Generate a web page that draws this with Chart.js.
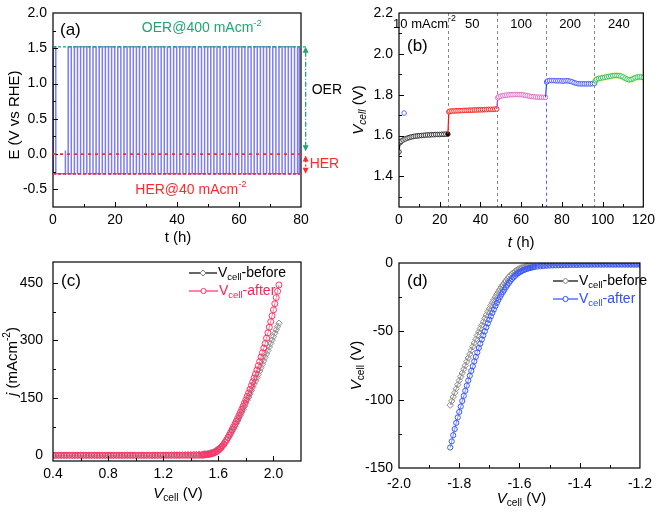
<!DOCTYPE html>
<html><head><meta charset="utf-8">
<script src="https://cdn.jsdelivr.net/npm/chart.js@4"></script>
<style>body{margin:0;background:#fff;width:661px;height:513px;overflow:hidden;position:relative}canvas.c{position:absolute;left:0;top:0}</style>
</head><body>
<canvas id="ca" class="c" width="661" height="513"></canvas>
<canvas id="cb" class="c" width="661" height="513"></canvas>
<canvas id="cc" class="c" width="661" height="513"></canvas>
<canvas id="cd" class="c" width="661" height="513"></canvas>
<script>
// ---------------- DATA ----------------
// (a) alternating OER/HER chronopotentiometry
const aXTicks = [0, 20, 40, 60, 80];
const aXMinor = [10, 30, 50, 70];
const aYTicks = [-0.5, 0, 0.5, 1.0, 1.5, 2.0];
const aYMinor = [-0.25, 0.25, 0.75, 1.25, 1.75];
const aOER = 1.52;
const aHER = -0.28;
const aSwitch = [0.1, 0.9, 4.9, 5.9, 6.9, 7.9, 8.9, 9.9, 10.9, 11.9, 12.9, 13.9, 14.9, 15.9, 16.9, 17.9, 18.9, 19.9, 20.9, 21.9, 22.9, 23.9, 24.9, 25.9, 26.9, 27.9, 28.9, 29.9, 30.9, 31.9, 32.9, 33.9, 34.9, 35.9, 36.9, 37.9, 38.9, 39.9, 40.9, 41.9, 42.9, 43.9, 44.9, 45.9, 46.9, 47.9, 48.9, 49.9, 50.9, 51.9, 52.9, 53.9, 54.9, 55.9, 56.9, 57.9, 58.9, 59.9, 60.9, 61.9, 62.9, 63.9, 64.9, 65.9, 66.9, 67.9, 68.9, 69.9, 70.9, 71.9, 72.9, 73.9, 74.9, 75.9, 76.9, 77.9, 78.9, 79.5];
const aGlitchT = [4.0];
const aGlitchV = [0.05];

// (b) stepwise current density
const bXTicks = [0, 20, 40, 60, 80, 100, 120];
const bXMinor = [10, 30, 50, 70, 90, 110];
const bYTicks = [1.4, 1.6, 1.8, 2.0, 2.2];
const bYMinor = [1.3, 1.5, 1.7, 1.9, 2.1];
const bSteps = [24, 48, 72, 96];
const bStepLabels = ['10 mAcm', '50', '100', '200', '240'];
const bT1 = [0, 0.5, 1, 2, 3, 4, 5, 6, 7, 8, 9, 10, 11, 12, 13, 14, 15, 16, 17, 18, 19, 20, 21, 22, 23, 24];
const bV1 = [1.52, 1.565, 1.572, 1.578, 1.583, 1.587, 1.590, 1.593, 1.595, 1.597, 1.598, 1.599, 1.600, 1.601, 1.602, 1.603, 1.603, 1.604, 1.604, 1.605, 1.605, 1.605, 1.606, 1.606, 1.607, 1.607];
const bT2 = [24, 24.5, 25, 26, 27, 28, 29, 30, 31, 32, 33, 34, 35, 36, 37, 38, 39, 40, 41, 42, 43, 44, 45, 46, 47, 48];
const bV2 = [1.607, 1.716, 1.719, 1.720, 1.720, 1.721, 1.721, 1.722, 1.722, 1.723, 1.723, 1.724, 1.724, 1.724, 1.725, 1.725, 1.726, 1.726, 1.726, 1.727, 1.727, 1.728, 1.728, 1.728, 1.729, 1.730];
const bT3 = [48, 48.5, 49, 50, 51, 52, 53, 54, 55, 56, 57, 58, 59, 60, 61, 62, 63, 64, 65, 66, 67, 68, 69, 70, 71, 72];
const bV3 = [1.730, 1.785, 1.790, 1.793, 1.795, 1.797, 1.798, 1.799, 1.800, 1.800, 1.801, 1.801, 1.800, 1.800, 1.799, 1.797, 1.795, 1.793, 1.791, 1.790, 1.789, 1.788, 1.788, 1.787, 1.787, 1.787];
const bT4 = [72, 72.5, 73, 74, 75, 76, 77, 78, 79, 80, 81, 82, 83, 84, 85, 86, 87, 88, 89, 90, 91, 92, 93, 94, 95, 96];
const bV4 = [1.787, 1.862, 1.867, 1.869, 1.869, 1.869, 1.868, 1.868, 1.868, 1.867, 1.867, 1.868, 1.868, 1.866, 1.863, 1.859, 1.856, 1.854, 1.853, 1.853, 1.853, 1.853, 1.853, 1.853, 1.854, 1.855];
const bT5 = [96, 96.5, 97, 98, 99, 100, 101, 102, 103, 104, 105, 106, 107, 108, 109, 110, 111, 112, 113, 114, 115, 116, 117, 118, 119, 120];
const bV5 = [1.855, 1.868, 1.875, 1.879, 1.881, 1.883, 1.885, 1.887, 1.889, 1.891, 1.893, 1.894, 1.894, 1.893, 1.891, 1.887, 1.881, 1.876, 1.873, 1.874, 1.878, 1.883, 1.886, 1.887, 1.886, 1.884];
const bStrayT = [2.5];
const bStrayV = [1.71];

// (c) polarization curves (OER-side)
const cXTicks = [0.4, 0.8, 1.2, 1.6, 2.0];
const cXMinor = [0.6, 1.0, 1.4, 1.8];
const cYTicks = [0, 150, 300, 450];
const cYMinor = [75, 225, 375];
const cV = [0.40,0.42,0.44,0.46,0.48,0.50,0.52,0.54,0.56,0.58,
  0.60,0.62,0.64,0.66,0.68,0.70,0.72,0.74,0.76,0.78,
  0.80,0.82,0.84,0.86,0.88,0.90,0.92,0.94,0.96,0.98,
  1.00,1.02,1.04,1.06,1.08,1.10,1.12,1.14,1.16,1.18,
  1.20,1.22,1.24,1.26,1.28,1.30,1.32,1.34,1.36,1.38,
  1.40,1.42,1.44,1.46,1.48,
  1.49,1.50,1.51,1.52,1.53,1.54,1.55,1.56,1.57,1.58,
  1.59,1.60,1.61,1.62,1.63,1.64,1.65,1.66,1.67,1.68,
  1.69,1.70,1.71,1.72,1.73,1.74,1.75,1.76,1.77,1.78,
  1.79,1.80,1.81,1.82,1.83,1.84,1.85,1.86,1.87,1.88,
  1.89,1.90,1.91,1.92,1.93,1.94,1.95,1.96,1.97,1.98,
  1.99,2.00,2.01,2.02,2.03,2.04];
const cBefore = [0,0,0,0,0,0,0,0,0,0,
  0,0,0,0,0,0,0,0,0,0,
  0,0,0,0,0,0,0,0,0,0,
  0,0,0,0,0,0,0,0,0,0,
  0.5,0.5,0.5,1,1,1,1,1.5,1.5,2,
  2,2.5,2.5,3,3,
  3.2,3.5,3.8,4,5,6,7,8,10,12,
  14.5,17,20,23,27,31,35.5,40,45.5,51,
  57,63,69.5,76,83,90,97.5,105,112.5,120,
  128,136,144,152,160.5,169,177.5,186,194.5,203,
  211.5,220,229,238,247,256,265,274,283,292,
  301,310,319,328,336.5,345];
const cAfter = [0,0,0,0,0,0,0,0,0,0,
  0,0,0,0,0,0,0,0,0,0,
  0,0,0,0,0,0,0,0,0,0,
  0,0,0,0,0,0,0,0,0,0,
  0,0,0,0,0,0,0,0,0,0,
  0,0,0,0,0,
  0.5,1,1.5,2,2.5,3,4,5,6.5,8,
  10.5,13,16.5,20,24.5,29,34.5,40,46.5,53,
  60,67,74,81,88.5,96,104,112,120,128,
  136.5,145,154,163,172.5,182,192,202,212.5,223,
  234,245,256.5,268,280,292,306,320,334.5,349,
  364.5,380,396,412,428.5,445];

// (d) polarization curves (HER-side)
const dXTicks = [-2.0, -1.8, -1.6, -1.4, -1.2];
const dXMinor = [-1.9, -1.7, -1.5, -1.3];
const dYTicks = [0, -50, -100, -150];
const dYMinor = [-25, -75, -125];
const dV = [-1.830,-1.825,-1.820,-1.815,-1.810,-1.805,-1.800,-1.795,-1.790,-1.785,
  -1.780,-1.775,-1.770,-1.765,-1.760,-1.755,-1.750,-1.745,-1.740,-1.735,
  -1.730,-1.725,-1.720,-1.715,-1.710,-1.705,-1.700,-1.695,-1.690,-1.685,
  -1.680,-1.675,-1.670,-1.665,-1.660,-1.655,-1.650,-1.645,-1.640,-1.635,
  -1.630,-1.625,-1.620,-1.615,-1.610,-1.605,-1.600,-1.595,-1.590,-1.585,
  -1.580,-1.575,-1.570,-1.565,-1.560,-1.555,-1.550,
  -1.54,-1.53,-1.52,-1.51,-1.50,-1.49,-1.48,-1.47,-1.46,-1.45,
  -1.44,-1.43,-1.42,-1.41,-1.40,-1.39,-1.38,-1.37,-1.36,-1.35,
  -1.34,-1.33,-1.32,-1.31,-1.30,-1.29,-1.28,-1.27,-1.26,-1.25,
  -1.24,-1.23,-1.22,-1.21,-1.20];
const dBefore = [-104,-101,-98,-95,-92,-89,-86,-83.2,-80.5,-77.7,
  -75,-72.2,-69.5,-66.7,-64,-61.2,-58.5,-55.7,-53,-50.5,
  -48,-45.5,-43,-40.5,-38,-35.7,-33.5,-31.2,-29,-27,
  -25,-23,-21,-19.2,-17.5,-16,-14.5,-13,-11.5,-10.2,
  -9,-8,-7,-6.1,-5.3,-4.6,-4,-3.6,-3.2,-2.9,
  -2.6,-2.3,-2.1,-1.9,-1.8,-1.7,-1.6,
  -1.4,-1.3,-1.2,-1.1,-1.0,-1.0,-0.9,-0.9,-0.9,-0.8,
  -0.8,-0.8,-0.8,-0.8,-0.8,-0.7,-0.7,-0.7,-0.7,-0.7,
  -0.7,-0.7,-0.7,-0.7,-0.7,-0.7,-0.7,-0.7,-0.7,-0.7,
  -0.7,-0.7,-0.7,-0.7,-0.7];
const dAfter = [-135,-130.5,-126,-121.5,-117,-113,-109,-105,-101,-97.2,
  -93.5,-89.7,-86,-82.5,-79,-75.5,-72,-68.7,-65.5,-62.2,
  -59,-56,-53,-50,-47,-44.2,-41.5,-39,-36.5,-34,
  -31.5,-29.2,-27,-25,-23,-21.2,-19.5,-17.7,-16,-14.5,
  -13,-11.7,-10.5,-9.4,-8.3,-7.5,-6.8,-6.2,-5.6,-5.1,
  -4.6,-4.2,-3.9,-3.6,-3.3,-3.1,-2.9,
  -2.6,-2.4,-2.2,-2.0,-1.9,-1.8,-1.7,-1.6,-1.6,-1.5,
  -1.5,-1.4,-1.4,-1.4,-1.3,-1.3,-1.3,-1.3,-1.2,-1.2,
  -1.2,-1.2,-1.2,-1.2,-1.2,-1.2,-1.2,-1.2,-1.2,-1.2,
  -1.2,-1.2,-1.2,-1.2,-1.2];

// ---------------- HELPERS ----------------
const FONT = '"Liberation Sans", Arial, sans-serif';
const W = 661, H = 513;
function pts(xs, ys) { return xs.map((x, i) => ({x, y: ys[i]})); }
function buildA() {
  const out = []; let lv = aHER; out.push({x: 0, y: lv});
  const ev = aSwitch.map(t => ({t, g: false})).concat(aGlitchT.map((t, i) => ({t, g: true, v: aGlitchV[i]}))).sort((p, q) => p.t - q.t);
  for (const e of ev) {
    if (!e.g) { out.push({x: e.t, y: lv}); lv = (lv === aHER) ? aOER : aHER; out.push({x: e.t, y: lv}); }
    else { out.push({x: e.t, y: lv}, {x: e.t, y: e.v}, {x: e.t, y: lv}); }
  }
  out.push({x: 80, y: lv});
  return out;
}
function axis(s, isY, fixed) {
  return {
    type: 'linear', min: s.min, max: s.max,
    afterBuildTicks: sc => { sc.ticks = s.ticks.map(v => ({value: v})); },
    afterFit: sc => { if (isY) sc.width = fixed; else sc.height = fixed; },
    grid: {display: false, drawTicks: false}, border: {display: false},
    ticks: {callback: v => s.fmt(v), font: {family: FONT, size: s.size, lineHeight: 1}, color: '#000', padding: s.pad, maxRotation: 0, minRotation: 0, autoSkip: false}
  };
}
function rich(ctx, segs, x, y, size, color, align, rot) {
  ctx.save(); ctx.translate(x, y); if (rot) ctx.rotate(-Math.PI / 2);
  const f = st => { const small = st.indexOf('sub') >= 0 || st.indexOf('sup') >= 0; const it = st.charAt(0) === 'i'; return (it ? 'italic ' : '') + (small ? size * 0.68 : size) + 'px ' + FONT; };
  let w = 0; segs.forEach(([t, st]) => { ctx.font = f(st); w += ctx.measureText(t).width; });
  let cx = align === 'center' ? -w / 2 : (align === 'right' ? -w : 0);
  ctx.textBaseline = 'middle'; ctx.textAlign = 'left'; ctx.fillStyle = color;
  segs.forEach(([t, st]) => { ctx.font = f(st); let dy = 0; if (st.indexOf('sub') >= 0) dy = size * 0.3; if (st.indexOf('sup') >= 0) dy = -size * 0.38; ctx.fillText(t, cx, dy); cx += ctx.measureText(t).width; });
  ctx.restore();
}
function seg(ctx, x1, y1, x2, y2, color, dash, lw) {
  ctx.save(); ctx.strokeStyle = color; ctx.lineWidth = lw; ctx.setLineDash(dash || []);
  ctx.beginPath(); ctx.moveTo(x1, y1); ctx.lineTo(x2, y2); ctx.stroke(); ctx.restore();
}
function head(ctx, x, y, dir, color) {
  ctx.save(); ctx.fillStyle = color; ctx.beginPath();
  ctx.moveTo(x, y); ctx.lineTo(x - 3, y - dir * 6); ctx.lineTo(x + 3, y - dir * 6); ctx.closePath(); ctx.fill(); ctx.restore();
}
function frame(spec) {
  return {
    id: 'frame',
    beforeDatasetsDraw(c) { if (spec.before) spec.before(c.ctx, c); },
    afterDatasetsDraw(c) {
      const ctx = c.ctx, a = c.chartArea, x = c.scales.x, y = c.scales.y;
      ctx.save(); ctx.strokeStyle = '#000'; ctx.lineWidth = 1.2;
      ctx.strokeRect(a.left, a.top, a.right - a.left, a.bottom - a.top);
      ctx.lineWidth = 1; ctx.beginPath();
      spec.xMaj.forEach(v => { const p = Math.round(x.getPixelForValue(v)) + 0.5; ctx.moveTo(p, a.bottom); ctx.lineTo(p, a.bottom - 5); });
      spec.xMin.forEach(v => { const p = Math.round(x.getPixelForValue(v)) + 0.5; ctx.moveTo(p, a.bottom); ctx.lineTo(p, a.bottom - 3); });
      spec.yMaj.forEach(v => { const p = Math.round(y.getPixelForValue(v)) + 0.5; ctx.moveTo(a.left, p); ctx.lineTo(a.left + 5, p); });
      spec.yMin.forEach(v => { const p = Math.round(y.getPixelForValue(v)) + 0.5; ctx.moveTo(a.left, p); ctx.lineTo(a.left + 3, p); });
      ctx.stroke(); ctx.restore();
      if (spec.after) spec.after(ctx, c);
    }
  };
}
function mk(id, box, xs, ys, datasets, spec) {
  return new Chart(document.getElementById(id), {
    type: 'line',
    data: {datasets},
    options: {
      responsive: false, animation: false, events: [], devicePixelRatio: 1,
      layout: {padding: {left: box.l - box.yw, right: W - box.r, top: box.t, bottom: H - box.b - box.xh}},
      plugins: {legend: {display: false}, tooltip: {enabled: false}},
      scales: {x: axis(xs, false, box.xh), y: axis(ys, true, box.yw)}
    },
    plugins: [frame(spec)]
  });
}
const f1 = v => v.toFixed(1);
const f0 = v => String(Math.round(v));
const GREEN = '#1fa56f', RED = '#ff2a2a';

// ---------------- (a) ----------------
mk('ca', {l: 53, r: 301, t: 7, b: 207, yw: 53, xh: 40},
  {min: 0, max: 80, ticks: aXTicks, fmt: f0, size: 14, pad: 6},
  {min: -0.75, max: 2.0, ticks: aYTicks, fmt: f1, size: 14, pad: 6},
  [{data: buildA(), borderColor: '#7c7cf5', borderWidth: 1.5, pointRadius: 0, tension: 0, clip: 2}],
  {xMaj: [20, 40, 60], xMin: aXMinor, yMaj: aYTicks.slice(0, 5), yMin: aYMinor,
   after(ctx, c) {
     const x = c.scales.x, y = c.scales.y, a = c.chartArea;
     const xa = x.getPixelForValue(81.5);
     seg(ctx, x.getPixelForValue(0), y.getPixelForValue(aOER), xa, y.getPixelForValue(aOER), GREEN, [3, 2], 1.4);
     seg(ctx, x.getPixelForValue(0), y.getPixelForValue(0), x.getPixelForValue(80), y.getPixelForValue(0), RED, [3, 4], 1.8);
     seg(ctx, x.getPixelForValue(0), y.getPixelForValue(aHER), x.getPixelForValue(80), y.getPixelForValue(aHER), RED, [3, 2], 1.8);
     seg(ctx, xa, y.getPixelForValue(aOER) + 5, xa, y.getPixelForValue(0.04) - 5, GREEN, [5, 2, 1, 2], 1.3);
     head(ctx, xa, y.getPixelForValue(aOER), -1, GREEN);
     head(ctx, xa, y.getPixelForValue(0.04), 1, GREEN);
     seg(ctx, xa, y.getPixelForValue(-0.02) + 5, xa, y.getPixelForValue(aHER) - 5, RED, [2, 2], 1.3);
     head(ctx, xa, y.getPixelForValue(-0.02), -1, RED);
     head(ctx, xa, y.getPixelForValue(aHER), 1, RED);
     rich(ctx, [['OER', '']], xa + 6, y.getPixelForValue(0.9), 14, '#000', 'left');
     rich(ctx, [['HER', '']], xa + 4, y.getPixelForValue(-0.14), 14, RED, 'left');
     rich(ctx, [['OER@400 mAcm', ''], ['-2', 'sup']], x.getPixelForValue(48), y.getPixelForValue(1.78), 14, GREEN, 'center');
     rich(ctx, [['HER@40 mAcm', ''], ['-2', 'sup']], x.getPixelForValue(44.5), y.getPixelForValue(-0.51), 14, RED, 'center');
     rich(ctx, [['(a)', '']], a.left + 7, a.top + 17, 17, '#000', 'left');
     rich(ctx, [['E (V vs RHE)', '']], 15, (a.top + a.bottom) / 2 + 5, 15, '#000', 'center', true);
     rich(ctx, [['t (h)', '']], (a.left + a.right) / 2 + 1, a.bottom + 31, 15, '#000', 'center');
   }});

// ---------------- (b) ----------------
const bSegColors = ['#111111', '#ff1010', '#c040b0', '#2a3cff', '#22b050'];
const bMarkColors = ['#333333', '#ff2020', '#e070c8', '#4a5cff', '#30c060'];
function bSeg(ts, vs, k, firstHidden) {
  return {data: pts(ts, vs), borderColor: bSegColors[k], borderWidth: 1.2, tension: 0,
    pointRadius: ctx => (firstHidden && ctx.dataIndex === 0) ? 0 : 2.3,
    pointBorderColor: bMarkColors[k], pointBorderWidth: 1,
    pointBackgroundColor: ctx => (k === 0 && ctx.dataIndex === ts.length - 1) ? '#000' : '#fff'};
}
mk('cb', {l: 399, r: 647, t: 7, b: 207, yw: 40, xh: 40},
  {min: 0, max: 120, ticks: bXTicks, fmt: f0, size: 14, pad: 6},
  {min: 1.25, max: 2.2, ticks: bYTicks, fmt: f1, size: 14, pad: 6},
  [
    {data: pts(bStrayT, bStrayV), showLine: false, pointRadius: 2.3, pointBorderColor: '#5a6cff', pointBackgroundColor: '#fff', pointBorderWidth: 1},
    bSeg(bT5, bV5, 4, true),
    bSeg(bT4, bV4, 3, true),
    bSeg(bT3, bV3, 2, true),
    bSeg(bT2, bV2, 1, true),
    bSeg(bT1, bV1, 0, false),
    {data: pts(bT5, bV5), borderColor: 'rgba(250,248,150,0.85)', borderWidth: 7, pointRadius: 0, tension: 0.3}
  ],
  {xMaj: [20, 40, 60, 80, 100], xMin: bXMinor, yMaj: [1.4, 1.6, 1.8, 2.0], yMin: bYMinor,
   before(ctx, c) {
     const x = c.scales.x, y = c.scales.y, a = c.chartArea;
     bSteps.forEach(t => {
       const p = Math.round(x.getPixelForValue(t)) + 0.5;
       if (t === 72) {
         seg(ctx, p, a.top, p, y.getPixelForValue(1.87), '#888', [3, 3], 1);
         seg(ctx, p, y.getPixelForValue(1.79), p, a.bottom, '#5060ff', [3, 3], 1);
       } else seg(ctx, p, a.top, p, a.bottom, '#888', [3, 3], 1);
     });
   },
   after(ctx, c) {
     const x = c.scales.x, y = c.scales.y, a = c.chartArea;
     const mids = [12.5, 36, 60, 84, 108];
     bStepLabels.forEach((s, i) => {
       const segs = i === 0 ? [[s, ''], ['-2', 'sup']] : [[s, '']];
       rich(ctx, segs, x.getPixelForValue(mids[i]), a.top + 11, 13, '#000', 'center');
     });
     rich(ctx, [['(b)', '']], a.left + 8, a.top + 33, 17, '#000', 'left');
     rich(ctx, [['V', 'i'], ['cell', 'isub'], [' (V)', '']], 359, (a.top + a.bottom) / 2, 15, '#000', 'center', true);
     rich(ctx, [['t', 'i'], [' (h)', '']], (a.left + a.right) / 2, a.bottom + 36, 15, '#000', 'center');
   }});

// ---------------- (c) ----------------
function legendEntry(ctx, x1, x2, yy, lineCol, markCol, style, segs, textCol) {
  seg(ctx, x1, yy, x2, yy, lineCol, [], 1.2);
  const m = (x1 + x2) / 2;
  ctx.save(); ctx.strokeStyle = markCol; ctx.fillStyle = '#fff'; ctx.lineWidth = 1; ctx.beginPath();
  if (style === 'rectRot') { ctx.moveTo(m, yy - 3); ctx.lineTo(m + 3, yy); ctx.lineTo(m, yy + 3); ctx.lineTo(m - 3, yy); ctx.closePath(); }
  else ctx.arc(m, yy, 2.6, 0, Math.PI * 2);
  ctx.fill(); ctx.stroke(); ctx.restore();
  rich(ctx, segs, x2 + 1, yy, 14, textCol, 'left');
}
mk('cc', {l: 53, r: 301, t: 262, b: 461, yw: 53, xh: 40},
  {min: 0.4, max: 2.2, ticks: cXTicks, fmt: f1, size: 14, pad: 6},
  {min: -15, max: 505, ticks: cYTicks, fmt: f0, size: 14, pad: 10},
  [
    {data: pts(cV, cAfter), borderColor: '#ff5a80', borderWidth: 0.8, pointStyle: 'circle', pointRadius: 3, pointBorderColor: '#ff3366', pointBackgroundColor: 'rgba(255,255,255,0)', pointBorderWidth: 1, tension: 0},
    {data: pts(cV, cBefore), borderColor: '#777', borderWidth: 0.8, pointStyle: 'rectRot', pointRadius: 3.2, pointBorderColor: '#8a8a8a', pointBackgroundColor: 'rgba(255,255,255,0)', pointBorderWidth: 1, tension: 0}
  ],
  {xMaj: [0.8, 1.2, 1.6, 2.0], xMin: cXMinor, yMaj: cYTicks.slice(1), yMin: cYMinor,
   after(ctx, c) {
     const a = c.chartArea;
     legendEntry(ctx, 189, 217, 273, '#000', '#777', 'rectRot', [['V', ''], ['cell', 'sub'], ['-before', '']], '#000');
     legendEntry(ctx, 189, 218, 291, '#ff3366', '#ff3366', 'circle', [['V', ''], ['cell', 'sub'], ['-after', '']], '#ff2050');
     rich(ctx, [['(c)', '']], a.left + 8, a.top + 19, 17, '#000', 'left');
     rich(ctx, [['j', 'i'], [' (mAcm', ''], ['-2', 'sup'], [')', '']], 13, (a.top + a.bottom) / 2, 15, '#000', 'center', true);
     rich(ctx, [['V', 'i'], ['cell', 'sub'], [' (V)', '']], (a.left + a.right) / 2 + 1, a.bottom + 33, 15, '#000', 'center');
   }});

// ---------------- (d) ----------------
mk('cd', {l: 399, r: 647, t: 263, b: 468, yw: 40, xh: 40},
  {min: -2.0, max: -1.2, ticks: dXTicks, fmt: f1, size: 14, pad: 9},
  {min: -150, max: 0, ticks: dYTicks, fmt: f0, size: 14, pad: 6},
  [
    {data: pts(dV, dAfter), borderColor: '#5a74ff', borderWidth: 0.8, pointStyle: 'circle', pointRadius: 2.6, pointBorderColor: '#3a56ff', pointBackgroundColor: 'rgba(255,255,255,0)', pointBorderWidth: 1, tension: 0},
    {data: pts(dV, dBefore), borderColor: '#777', borderWidth: 0.8, pointStyle: 'rectRot', pointRadius: 3.2, pointBorderColor: '#8a8a8a', pointBackgroundColor: 'rgba(255,255,255,0)', pointBorderWidth: 1, tension: 0}
  ],
  {xMaj: [-1.8, -1.6, -1.4], xMin: dXMinor, yMaj: [-50, -100], yMin: dYMinor,
   after(ctx, c) {
     const a = c.chartArea;
     legendEntry(ctx, 553, 578, 281, '#000', '#777', 'rectRot', [['V', ''], ['cell', 'sub'], ['-before', '']], '#000');
     legendEntry(ctx, 553, 578, 299, '#2f4dff', '#2f4dff', 'circle', [['V', ''], ['cell', 'sub'], ['-after', '']], '#2f4dff');
     rich(ctx, [['(d)', '']], a.left + 8, a.top + 18, 17, '#000', 'left');
     rich(ctx, [['V', 'i'], ['cell', 'sub'], [' (V)', '']], 357, (a.top + a.bottom) / 2, 15, '#000', 'center', true);
     rich(ctx, [['V', 'i'], ['cell', 'sub'], [' (V)', '']], (a.left + a.right) / 2 + 2, a.bottom + 31, 15, '#000', 'center');
   }});
</script>
</body></html>
